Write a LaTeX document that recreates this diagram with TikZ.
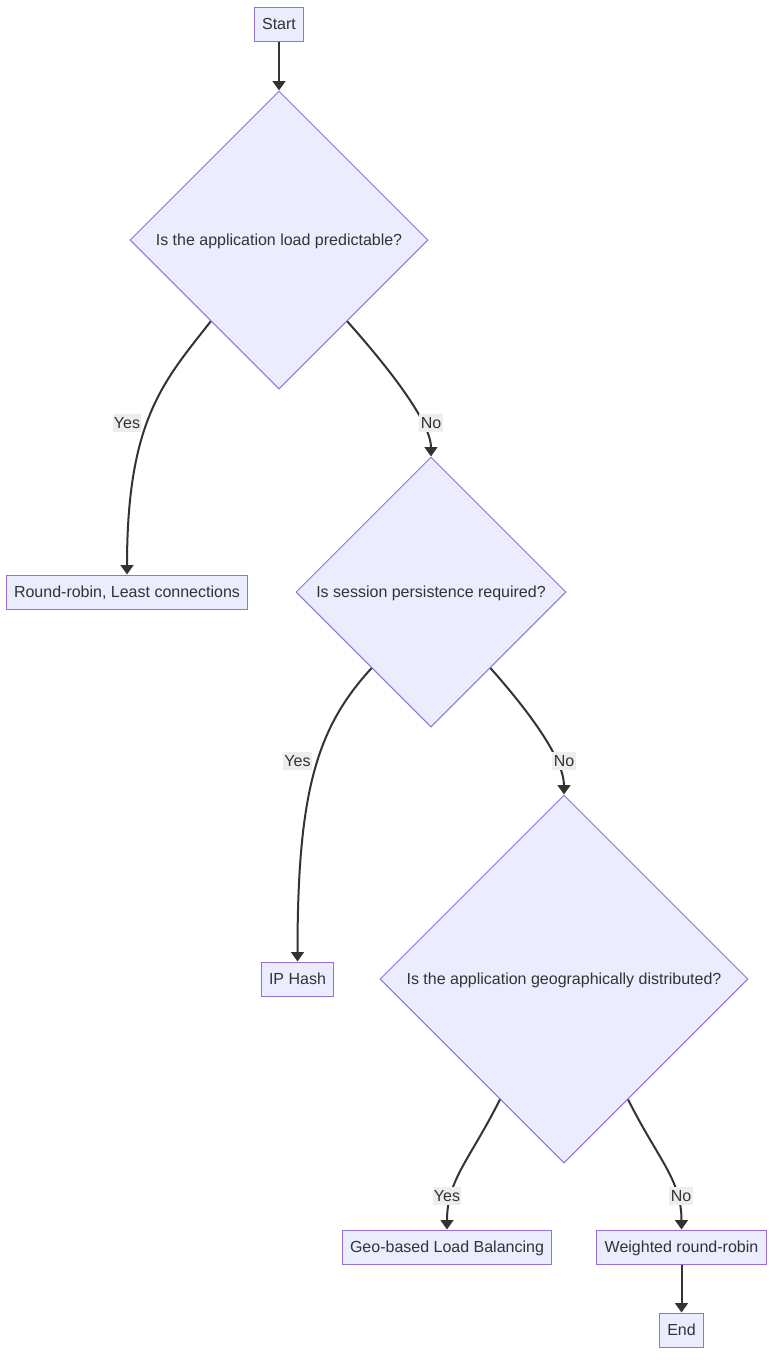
\documentclass[tikz,border=0pt]{standalone}
\usepackage{fontspec}
\setmainfont{Liberation Sans}
\usepackage{xcolor}
\usepackage{tikz}
\usetikzlibrary{shapes.geometric,arrows.meta}
\definecolor{nodefill}{HTML}{ECECFF}
\definecolor{nodeline}{HTML}{9370DB}
\definecolor{edgeline}{HTML}{333333}
\definecolor{labelfill}{HTML}{EDEDED}

\begin{document}
\begin{tikzpicture}[x=0.75pt,y=-0.75pt,
	font=\fontsize{12}{14}\selectfont,
	box/.style={draw=nodeline, fill=nodefill, line width=0.75pt, inner xsep=6pt, inner ysep=0pt, minimum height=25.5pt, text height=11pt, text depth=2.4pt, text=edgeline},
	decision/.style={diamond, aspect=1, draw=nodeline, fill=nodefill, line width=0.75pt, inner sep=0pt, text height=11pt, text depth=2.4pt, text=edgeline},
	flow/.style={draw=edgeline, line width=1.5pt, -{Triangle[length=7pt,width=9.5pt]}},
	answer/.style={fill=labelfill, inner xsep=1pt, inner ysep=0pt, text height=11pt, text depth=2.4pt, text=edgeline}]
		\path[fill=white] (0,0) rectangle (782,1368);
		\useasboundingbox (0,0) rectangle (782,1368);
		\node[box] (start) at (279,24) {Start};
		\node[decision, minimum size=223.5pt] (load) at (279,240) {Is the application load predictable?};
		\node[box] (rr) at (127,592) {Round-robin, Least connections};
		\node[decision, minimum size=202.5pt] (session) at (431,592) {Is session persistence required?};
		\node[box] (iphash) at (297.5,979) {IP Hash};
		\node[decision, minimum size=276pt] (geo) at (564,979) {Is the application geographically distributed?};
		\node[box] (geolb) at (447,1247) {Geo-based Load Balancing};
		\node[box] (wrr) at (681.5,1247) {Weighted round-robin};
		\node[box] (end) at (681.5,1330) {End};

		\draw[flow] (start) -- (load);
		\draw[flow] (load.-130) .. controls +(-47,60) and +(0,-155) .. (rr.north);
		\draw[flow] (load.-50) .. controls +(40,45) and +(0,-35) .. (session.north);
		\draw[flow] (session.-128) .. controls +(-55,60) and +(0,-170) .. (iphash.north);
		\draw[flow] (session.-52) .. controls +(40,45) and +(0,-35) .. (geo.north);
		\draw[flow] (geo.-118) .. controls +(-30,60) and +(0,-50) .. (geolb.north);
		\draw[flow] (geo.-62) .. controls +(30,60) and +(0,-50) .. (wrr.north);
		\draw[flow] (wrr) -- (end);

		\node[answer] (yes1) at (127,423) {Yes};
		\node[answer] (no1) at (431,423) {No};
		\node[answer] (yes2) at (297.5,761) {Yes};
		\node[answer] (no2) at (564,761) {No};
		\node[answer] (yes3) at (447,1196) {Yes};
		\node[answer] (no3) at (681,1196) {No};
\end{tikzpicture}
\end{document}
